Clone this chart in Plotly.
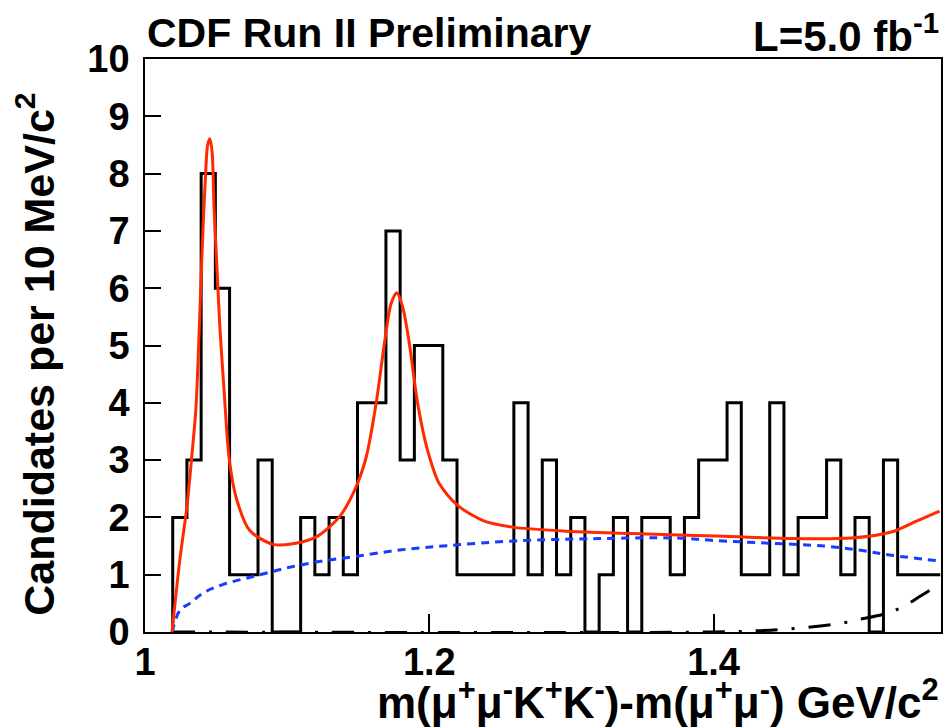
import numpy as np
import plotly.graph_objects as go

# ---------------- data ----------------
bin_start = 1.0195
bin_width = 0.01
counts = [2, 3, 8, 6, 1, 1, 3, 0, 0, 2, 1, 2, 1, 4, 4, 7, 3, 5, 5, 3,
          1, 1, 1, 1, 4, 1, 3, 1, 2, 0, 1, 2, 0, 2, 2, 1, 2, 3, 3, 4,
          1, 1, 4, 1, 2, 2, 3, 1, 2, 0, 3, 1, 1, 1]

fit_x = [1.0190, 1.0246, 1.0293, 1.0328, 1.0358, 1.0374, 1.0391, 1.0409, 1.0426, 1.0440,
         1.0456, 1.0472, 1.0486, 1.0503, 1.0526, 1.0557, 1.0592, 1.0643, 1.0737, 1.0900,
         1.1040, 1.1205, 1.1368, 1.1474, 1.1556, 1.1626, 1.1684, 1.1731, 1.1771, 1.1813,
         1.1860, 1.1918, 1.1988, 1.2070, 1.2199, 1.2374, 1.2585, 1.2960, 1.3427, 1.4080,
         1.4550, 1.4970, 1.5251, 1.5440, 1.5590]
fit_y = [0.00, 1.28, 2.15, 3.03, 3.90, 4.77, 5.93, 7.10, 7.97, 8.49,
         8.61, 8.38, 7.39, 6.52, 5.35, 4.19, 3.03, 2.33, 1.77, 1.53,
         1.54, 1.66, 2.01, 2.47, 3.05, 3.99, 5.03, 5.73, 5.92, 5.67,
         5.03, 3.99, 3.17, 2.59, 2.21, 1.95, 1.83, 1.76, 1.72, 1.67,
         1.63, 1.64, 1.745, 1.95, 2.11]

bkg_x = [1.0190, 1.0246, 1.0316, 1.0409, 1.0550, 1.0780, 1.1018, 1.1250, 1.1486, 1.1790,
         1.2140, 1.2610, 1.3190, 1.3750, 1.3988, 1.4386, 1.4780, 1.5020, 1.5250, 1.5590]
bkg_y = [0.00, 0.38, 0.50, 0.68, 0.83, 0.98, 1.13, 1.24, 1.32, 1.43,
         1.51, 1.59, 1.63, 1.64, 1.60, 1.55, 1.50, 1.43, 1.34, 1.24]

bkg2_x = [1.0195, 1.4000, 1.4300, 1.4560, 1.4890, 1.5046, 1.5195, 1.5333, 1.5444, 1.5567, 1.5595]
bkg2_y = [0.00, 0.00, 0.02, 0.06, 0.15, 0.23, 0.31, 0.44, 0.61, 0.80, 0.85]

x_tick_vals = [1.0, 1.2, 1.4]
x_tick_text = ["1", "1.2", "1.4"]

# ---------------- figure ----------------
edges = bin_start + bin_width * np.arange(len(counts) + 1)
hx = np.concatenate([[edges[0]], edges])
hy = np.concatenate([[0], counts, [counts[-1]]])

FONT = "Liberation Sans, Arial, Helvetica, sans-serif"

fig = go.Figure()
fig.add_trace(go.Scatter(x=hx, y=hy, mode="lines", line=dict(color="black", width=3, shape="hv"),
                         hoverinfo="skip"))
fig.add_trace(go.Scatter(x=bkg2_x, y=bkg2_y, mode="lines",
                         line=dict(color="black", width=3, dash="22px,14px,3px,14px", shape="spline"),
                         hoverinfo="skip"))
fig.add_trace(go.Scatter(x=bkg_x, y=bkg_y, mode="lines",
                         line=dict(color="#1a3aff", width=3, dash="8px,6px", shape="spline"),
                         hoverinfo="skip"))
fig.add_trace(go.Scatter(x=fit_x, y=fit_y, mode="lines",
                         line=dict(color="#ff2a00", width=3, shape="spline", smoothing=0.8),
                         hoverinfo="skip"))

fig.update_layout(
    width=951, height=728,
    margin=dict(l=145, r=8, t=59, b=96),
    paper_bgcolor="white", plot_bgcolor="white",
    showlegend=False,
    font=dict(family=FONT, color="black"),
)
fig.update_xaxes(range=[1.0, 1.56], showgrid=False, zeroline=False,
                 showline=True, linecolor="black", linewidth=1.5, mirror=True,
                 ticks="inside", ticklen=18, tickwidth=1.5, tickcolor="black",
                 tickvals=x_tick_vals, ticktext=x_tick_text,
                 tickfont=dict(family=FONT, size=38, weight="bold", color="black"),
                 ticklabelstandoff=-4)
fig.update_yaxes(range=[0, 10], showgrid=False, zeroline=False,
                 showline=True, linecolor="black", linewidth=1.5, mirror=True,
                 ticks="inside", ticklen=16, tickwidth=1.5, tickcolor="black",
                 dtick=1, tick0=0,
                 tickfont=dict(family=FONT, size=38, weight="bold", color="black"),
                 ticklabelstandoff=6)

ann_font = dict(family=FONT, size=42, weight="bold", color="black")
fig.add_annotation(text="Candidates per 10 MeV/c<sup>2</sup>", textangle=-90,
                   xref="paper", yref="paper", x=-0.138, y=0.484,
                   xanchor="center", yanchor="middle", showarrow=False,
                   font=dict(family=FONT, size=43, weight="bold", color="black"))
fig.add_annotation(text="m(μ<sup>+</sup>μ<sup>-</sup>K<sup>+</sup>K<sup>-</sup>)-m(μ<sup>+</sup>μ<sup>-</sup>) GeV/c<sup>2</sup>",
                   xref="paper", yref="paper", x=1.0, y=-0.117,
                   xanchor="right", yanchor="middle", showarrow=False,
                   font=dict(family=FONT, size=44, weight="bold", color="black"))
fig.add_annotation(text="CDF Run II Preliminary",
                   xref="paper", yref="paper", x=0.0, y=1.045,
                   xanchor="left", yanchor="middle", showarrow=False,
                   font=dict(family=FONT, size=41, weight="bold", color="black"))
fig.add_annotation(text="L=5.0 fb<sup>-1</sup>",
                   xref="paper", yref="paper", x=1.0, y=1.045,
                   xanchor="right", yanchor="middle", showarrow=False, font=ann_font)

fig.write_html("out.html", post_script="document.body.style.margin='0px';",
               config={"displayModeBar": False})
